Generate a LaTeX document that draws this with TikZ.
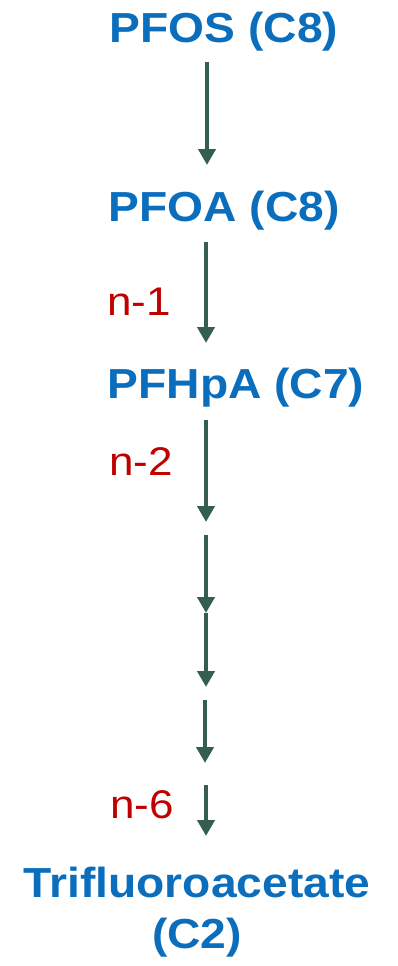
\documentclass[tikz,border=0pt]{standalone}
\usepackage{fontspec}
\setmainfont{Liberation Sans}
\usetikzlibrary{arrows.meta}
\definecolor{chemblue}{HTML}{0A6EBD}
\definecolor{stepred}{HTML}{C00000}
\definecolor{arrowgreen}{HTML}{345E50}
\tikzset{
  compound/.style={anchor=base, inner sep=0pt, text=chemblue,
    font=\fontsize{42}{48}\selectfont\bfseries},
  steplabel/.style={anchor=base west, inner sep=0pt, text=stepred,
    font=\fontsize{40}{46}\selectfont},
  conv/.style={draw=arrowgreen, line width=4.5pt,
    -{Triangle[width=17pt,length=16pt]}}
}
\newcommand{\wide}[1]{\scalebox{1.1}[1]{#1}}
\begin{document}
\begin{tikzpicture}[x=1pt,y=-1pt]
  \useasboundingbox (0,0) rectangle (398,966);
  % compounds
  \node[compound] (pfos) at (224,43) {\wide{PFOS (C8)}};
  \node[compound] (pfoa) at (224,221) {\wide{PFOA (C8)}};
  \node[compound] (pfhpa) at (236,398) {\wide{PFHpA (C7)}};
  \node[compound] (tfa) at (197,897) {\wide{Trifluoroacetate}};
  \node[compound] (tfac) at (197,948) {\wide{(C2)}};
  % chain-shortening step labels
  \node[steplabel] (n1) at (107,315) {\wide{n-1}};
  \node[steplabel] (n2) at (109,475) {\wide{n-2}};
  \node[steplabel] (n6) at (110,818) {\wide{n-6}};
  % arrow end points
  \coordinate (a1s) at (207,62);  \coordinate (a1e) at (207,165);
  \coordinate (a2s) at (206,242); \coordinate (a2e) at (206,343);
  \coordinate (a3s) at (206,420); \coordinate (a3e) at (206,522);
  \coordinate (a4s) at (206,535); \coordinate (a4e) at (206,613);
  \coordinate (a5s) at (206,613); \coordinate (a5e) at (206,687);
  \coordinate (a6s) at (205,700); \coordinate (a6e) at (205,763);
  \coordinate (a7s) at (206,785); \coordinate (a7e) at (206,836);
  \draw[conv] (a1s) -- (a1e);
  \draw[conv] (a2s) -- (a2e);
  \draw[conv] (a3s) -- (a3e);
  \draw[conv] (a4s) -- (a4e);
  \draw[conv] (a5s) -- (a5e);
  \draw[conv] (a6s) -- (a6e);
  \draw[conv] (a7s) -- (a7e);
\end{tikzpicture}
\end{document}
